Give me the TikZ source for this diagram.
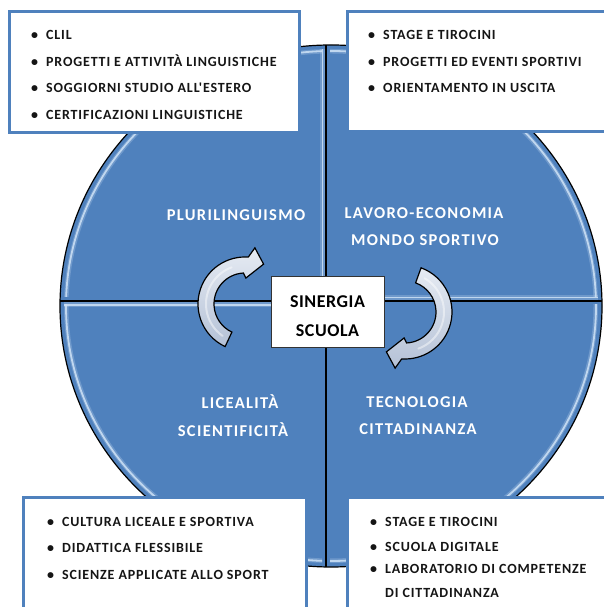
\documentclass[tikz,border=0pt]{standalone}
\usepackage{fontspec}
\setmainfont{Carlito}
\newfontfamily\itemfont[LetterSpace=6]{Carlito}
\newfontfamily\quadfont[LetterSpace=8]{Carlito}
\newfontfamily\ctrfont[LetterSpace=3]{Carlito}
\definecolor{qblue}{HTML}{4F81BD}
\definecolor{hlc}{HTML}{CFE2F6}
\definecolor{arrtop}{HTML}{E6EBF3}
\definecolor{arrbot}{HTML}{B4C1D6}
\definecolor{txt}{HTML}{151515}
\begin{document}
\begin{tikzpicture}[x=1pt,y=1pt,
  hlsoft/.style={draw=hlc, line width=5pt, opacity=0.25},
  hl/.style={draw=hlc, line width=1.8pt, opacity=0.85},
  divider/.style={draw=black, line width=1.1pt},
  outline/.style={draw=black, line width=1.2pt},
  listbox/.style={draw=qblue, line width=3pt, fill=white, inner sep=0pt, outer sep=0pt, anchor=south west},
  item/.style={anchor=base west, inner sep=0pt, text=txt, font=\itemfont\fontsize{14}{16}\selectfont\bfseries},
  quad/.style={anchor=base, inner sep=0pt, text=white, font=\quadfont\fontsize{16.5}{19}\selectfont\bfseries},
  centretxt/.style={anchor=base, inner sep=0pt, text=black, font=\ctrfont\fontsize{18}{21}\selectfont\bfseries},
  arrowshape/.style={draw=black, line width=1.2pt, top color=arrtop, bottom color=arrbot},
  arrowhl/.style={draw=white, line width=2pt, opacity=0.45, line cap=round}
]
\useasboundingbox (0,0) rectangle (603,607);
\fill[white] (0,0) rectangle (603,607);

% ---- the big ellipse in four quadrants ----
\coordinate (E) at (331,301);
\fill[qblue] (E) ellipse[x radius=271, y radius=261];

\begin{scope}
  \clip (E) ellipse[x radius=267, y radius=257];
  \begin{scope}
    \clip (0,310) rectangle (322,607);
    \draw[hlsoft] (E) ellipse[x radius=265, y radius=255];
    \draw[hl] (E) ellipse[x radius=265, y radius=255];
  \end{scope}
  \begin{scope}
    \clip (330,310) rectangle (603,607);
    \draw[hlsoft] (E) ellipse[x radius=265, y radius=255];
    \draw[hl] (E) ellipse[x radius=265, y radius=255];
  \end{scope}
  \begin{scope}
    \clip (0,0) rectangle (322,302);
    \draw[hlsoft] (E) ellipse[x radius=265, y radius=255];
    \draw[hl] (E) ellipse[x radius=265, y radius=255];
  \end{scope}
  \begin{scope}
    \clip (330,0) rectangle (603,302);
    \draw[hlsoft] (E) ellipse[x radius=265, y radius=255];
    \draw[hl] (E) ellipse[x radius=265, y radius=255];
  \end{scope}
  \draw[hlsoft] (322.5,311) -- (322.5,607);
  \draw[hl] (322.5,311) -- (322.5,607);
  \draw[hlsoft] (331,309.5) -- (603,309.5);
  \draw[hl] (331,309.5) -- (603,309.5);
  \draw[hlsoft] (0,302) -- (321,302);
  \draw[hl] (0,302) -- (321,302);
\end{scope}

\begin{scope}
  \clip (E) ellipse[x radius=271, y radius=261];
  \draw[divider] (326,0) -- (326,607);
  \draw[divider] (0,306) -- (603,306);
\end{scope}
\draw[outline] (E) ellipse[x radius=271, y radius=261];

% ---- quadrant labels ----
\node[quad] (plur) at (236,386) {PLURILINGUISMO};
\node[quad] (lav) at (424,388) {LAVORO-ECONOMIA};
\node[quad] (mondo) at (425,361) {MONDO SPORTIVO};
\node[quad] (lic) at (240,198) {LICEALITÀ};
\node[quad] (sci) at (233,170) {SCIENTIFICITÀ};
\node[quad] (tec) at (417,199) {TECNOLOGIA};
\node[quad] (cit) at (418,172) {CITTADINANZA};

% ---- list boxes ----
\node[listbox, minimum width=290, minimum height=121] (tl) at (9,474) {};
\node[listbox, minimum width=265, minimum height=120] (tr) at (347,475) {};
\node[listbox, minimum width=283, minimum height=119] (bl) at (23,-10) {};
\node[listbox, minimum width=265, minimum height=119] (br) at (347,-10) {};

\newcommand{\bul}{\llap{•\hspace{8pt}}}
\node[item] (tl1) at (46,567.8) {\bul CLIL};
\node[item] (tl2) at (46,540.8) {\bul PROGETTI E ATTIVITÀ LINGUISTICHE};
\node[item] (tl3) at (46,514.8) {\bul SOGGIORNI STUDIO ALL'ESTERO};
\node[item] (tl4) at (46,487.8) {\bul CERTIFICAZIONI LINGUISTICHE};

\node[item] (tr1) at (383,567.8) {\bul STAGE E TIROCINI};
\node[item] (tr2) at (383,540.8) {\bul PROGETTI ED EVENTI SPORTIVI};
\node[item] (tr3) at (383,514.8) {\bul ORIENTAMENTO IN USCITA};

\node[item] (bl1) at (62,80.1) {\bul CULTURA LICEALE E SPORTIVA};
\node[item] (bl2) at (62,54.8) {\bul DIDATTICA FLESSIBILE};
\node[item] (bl3) at (62,27.8) {\bul SCIENZE APPLICATE ALLO SPORT};

\node[item] (br1) at (385,80.8) {\bul STAGE E TIROCINI};
\node[item] (br2) at (385,55.8) {\bul SCUOLA DIGITALE};
\node[item] (br3) at (385,33.5) {\bul LABORATORIO DI COMPETENZE};
\node[item] (br4) at (385,9.5) {DI CITTADINANZA};

% ---- circular arrows ----
\coordinate (c1) at (245,303);
\coordinate (c2) at (405,295);
\path[arrowshape] ([shift={(245:47)}]c1) arc[start angle=245, end angle=86, radius=47]
  -- ([shift={(80:57)}]c1) -- ([shift={(65:44)}]c1) -- ([shift={(88:26)}]c1)
  -- ([shift={(93:31)}]c1) arc[start angle=93, end angle=245, radius=31] -- cycle;
\draw[arrowhl] ([shift={(235:39)}]c1) arc[start angle=235, end angle=110, radius=39];
\path[arrowshape] ([shift={(70:47)}]c2) arc[start angle=70, end angle=-94, radius=47]
  -- ([shift={(-100:57)}]c2) -- ([shift={(-115:44)}]c2) -- ([shift={(-92:26)}]c2)
  -- ([shift={(-87:31)}]c2) arc[start angle=-87, end angle=70, radius=31] -- cycle;
\draw[arrowhl] ([shift={(60:39)}]c2) arc[start angle=60, end angle=-70, radius=39];

% ---- centre box ----
\node[draw=black!80, line width=0.8pt, fill=white, minimum width=113, minimum height=71, inner sep=0pt] (ctr) at (327.5,295.5) {};
\node[centretxt] (sin) at (327.5,299.8) {SINERGIA};
\node[centretxt] (scu) at (327.5,270.8) {SCUOLA};
\end{tikzpicture}
\end{document}
